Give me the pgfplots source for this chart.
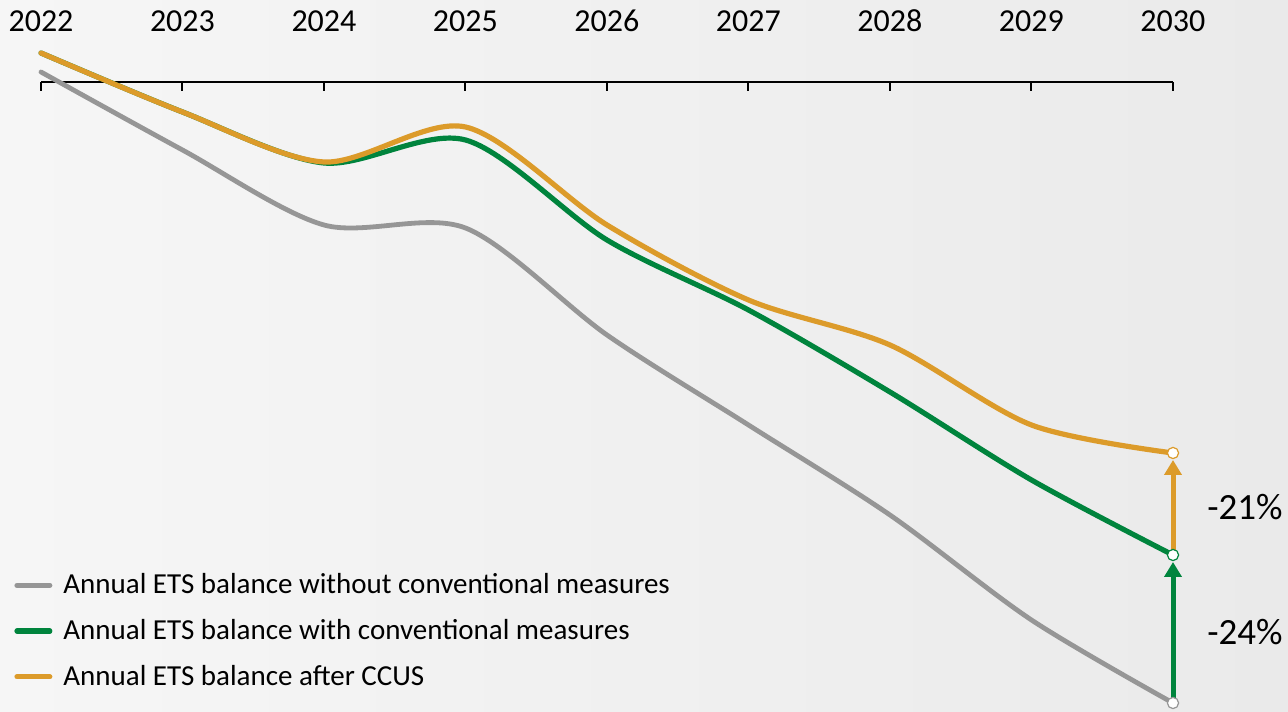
\documentclass[border=0pt]{standalone}
\usepackage{pgfplots}
\pgfplotsset{compat=1.18}
\usepackage{fontspec}
\setmainfont{Carlito}
\usetikzlibrary{arrows.meta}
\definecolor{cgray}{RGB}{150,150,150}
\definecolor{cgreen}{RGB}{0,132,61}
\definecolor{corange}{RGB}{220,155,42}
\definecolor{bgA}{RGB}{246,246,246}
\definecolor{bgB}{RGB}{234,234,234}
\begin{document}
\begin{tikzpicture}
\path[use as bounding box] (0,0) rectangle (644pt,355.5pt);
\shade[left color=bgA, right color=bgB] (0,0) rectangle (644pt,355.5pt);
\begin{axis}[
  at={(20.5pt,0pt)}, anchor=south west,
  scale only axis, width=566pt, height=314.5pt,
  xmin=2022, xmax=2030, ymin=-711, ymax=-82,
  clip=false,
  axis x line*=top, axis y line=none,
  x axis line style={-, line width=1.3pt},
  xtick={2022,...,2030},
  xticklabels={2022,2023,2024,2025,2026,2027,2028,2029,2030},
  tick align=inside,
  major tick length=4.5pt,
  every tick/.style={black, line width=1pt},
  xticklabel style={font=\fontsize{16}{19}\selectfont, yshift=21.5pt},
  legend style={at={(axis description cs:-0.02385,0.222)}, anchor=north west,
    draw=none, fill=none, font=\fontsize{14.5}{17.5}\selectfont,
    row sep=9.3pt, inner sep=0pt, column sep=0pt,
    nodes={inner xsep=0pt, inner ysep=1pt}, cells={anchor=west}},
  legend cell align=left,
  legend image code/.code={\path[draw=none, fill=none] (0pt,0pt) -- (24.5pt,0pt);
    \draw[#1, line width=2.6pt, line cap=round, mark=none] (1.3pt,0pt) -- (17.7pt,0pt);},
]
\addplot[cgray, line width=2.4pt, smooth, line cap=round,
  mark=*, mark indices={9}, mark options={fill=white, draw=cgray, line width=0.6pt, scale=1.4}]
  coordinates {(2022,-72)(2023,-150)(2024,-225)(2025,-228)(2026,-335)(2027,-425)(2028,-515)(2029,-620)(2030,-703)};
\addlegendentry{Annual ETS balance without conventional measures}
\addplot[cgreen, line width=2.6pt, smooth, line cap=round]
  coordinates {(2022,-53)(2023,-112)(2024,-163)(2025,-140)(2026,-240)(2027,-310)(2028,-392)(2029,-480)(2030,-555)};
\addlegendentry{Annual ETS balance with conventional measures}
\addplot[corange, line width=2.6pt, smooth, line cap=round]
  coordinates {(2022,-53)(2023,-112)(2024,-162)(2025,-127)(2026,-225)(2027,-300)(2028,-345)(2029,-425)(2030,-453)};
\addlegendentry{Annual ETS balance after CCUS}
\addplot[cgreen, line width=2.5pt, -{Triangle[width=8.5pt,length=7.5pt]}, forget plot]
  coordinates {(2030,-703)(2030,-562)};
\addplot[corange, line width=2.5pt, -{Triangle[width=8.5pt,length=7.5pt]}, forget plot]
  coordinates {(2030,-555)(2030,-460)};
\addplot[only marks, mark=*, mark options={fill=white, draw=cgreen, line width=0.6pt, scale=1.4}, forget plot]
  coordinates {(2030,-555)};
\addplot[only marks, mark=*, mark options={fill=white, draw=corange, line width=0.6pt, scale=1.4}, forget plot]
  coordinates {(2030,-453)};
\node[font=\fontsize{18.5}{22}\selectfont] at (axis cs:2030.509,-507) {-21\%};
\node[font=\fontsize{18.5}{22}\selectfont] at (axis cs:2030.509,-632) {-24\%};
\end{axis}
\end{tikzpicture}
\end{document}
